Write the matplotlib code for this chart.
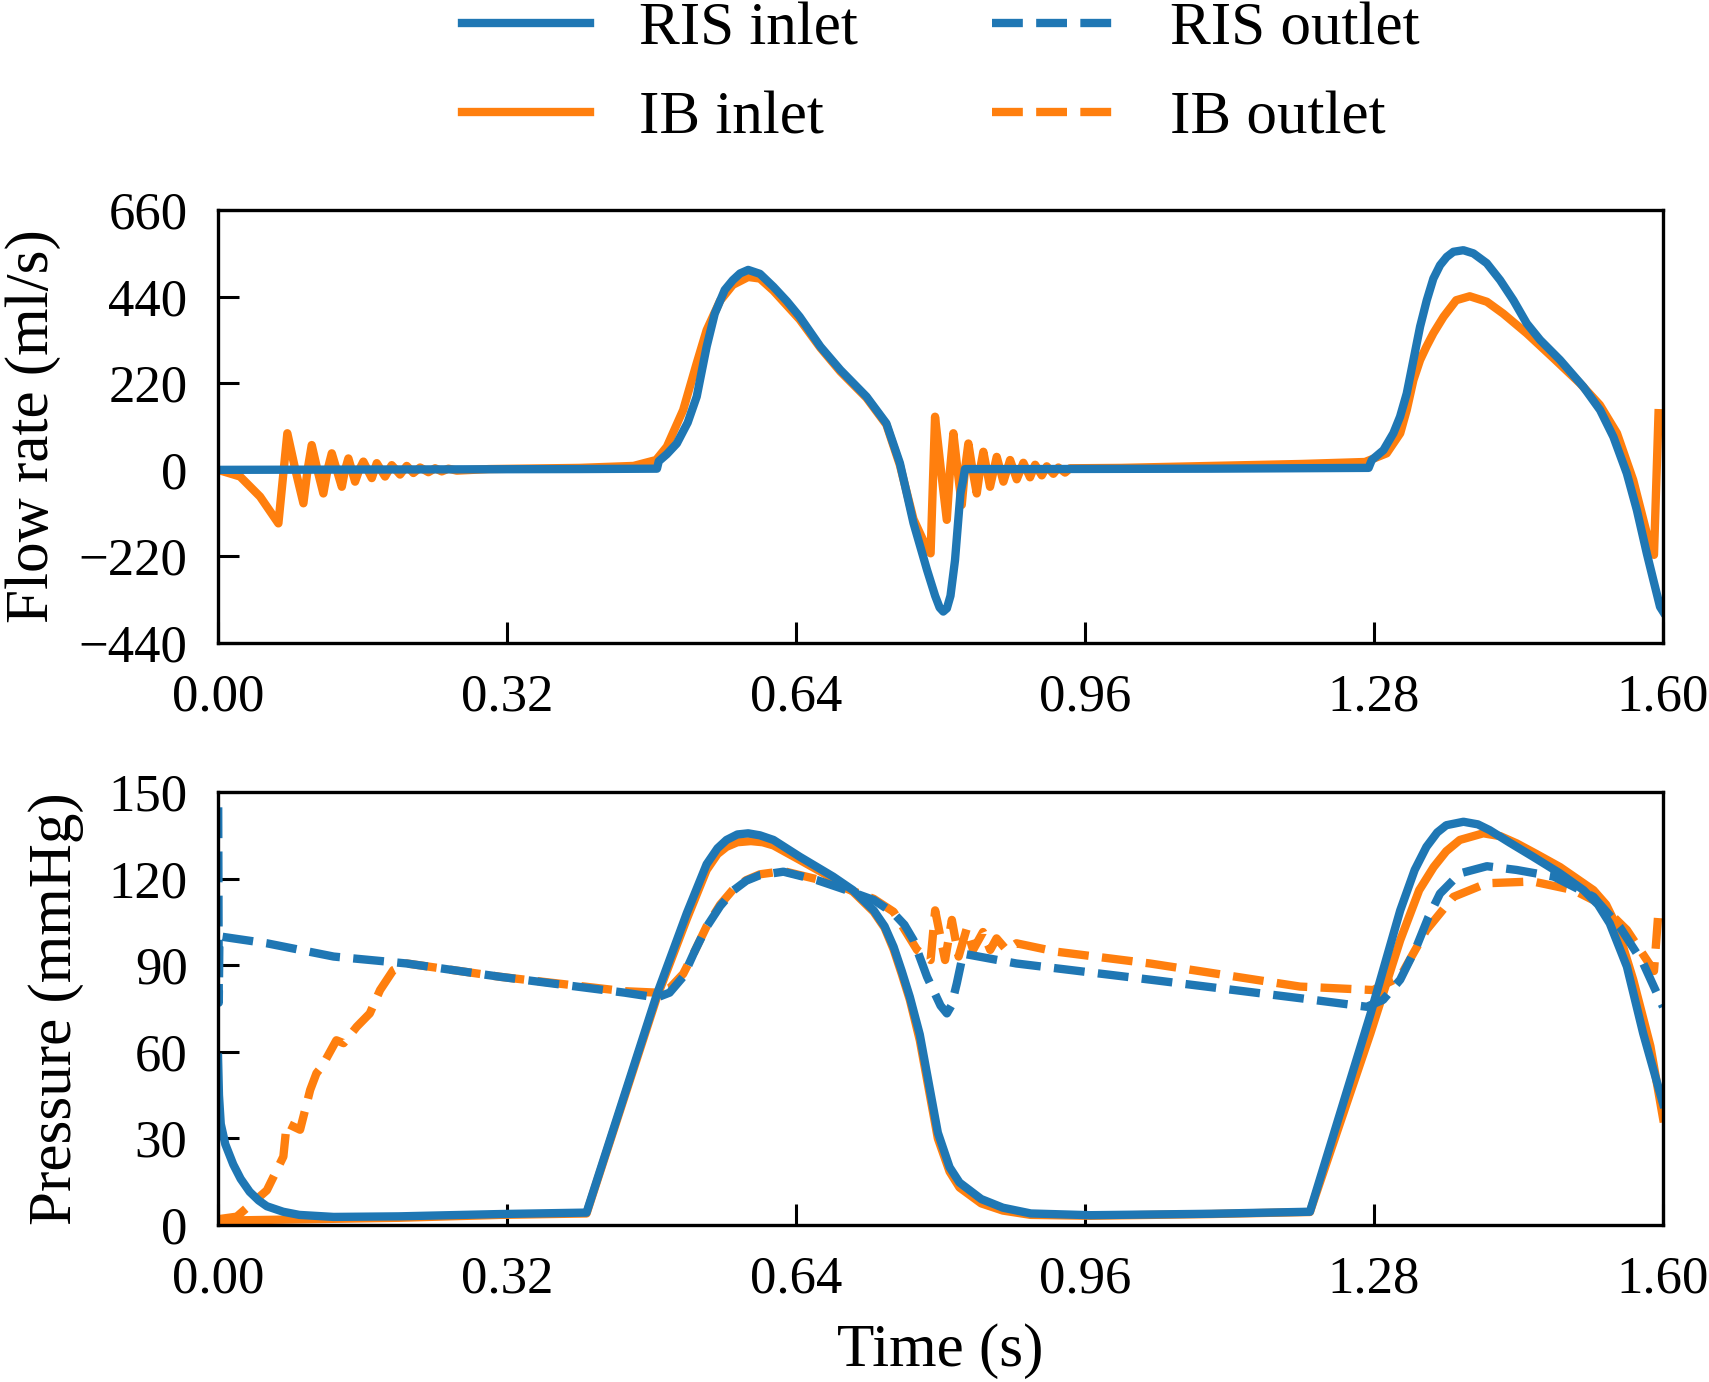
import numpy as np
import matplotlib.pyplot as plt

plt.rcParams['font.family'] = ['Liberation Serif', 'DejaVu Serif']

# ---- flow rate (ml/s) ----
t_q_ris = [0, 0.2, 0.40, 0.486, 0.488, 0.497, 0.508, 0.52, 0.530, 0.541, 0.550, 0.561,
           0.570, 0.578, 0.587, 0.600, 0.615, 0.630, 0.644, 0.667, 0.689, 0.718, 0.740,
           0.755, 0.770, 0.785, 0.794, 0.799, 0.803, 0.807, 0.811, 0.816, 0.822, 0.825,
           0.827, 0.9, 1.1, 1.274, 1.2775, 1.2904, 1.3014, 1.3088, 1.3162, 1.3236, 1.331,
           1.3384, 1.3457, 1.3531, 1.3605, 1.3679, 1.3789, 1.39, 1.4048, 1.4196, 1.4343,
           1.4491, 1.4639, 1.486, 1.5118, 1.5303, 1.545, 1.5599, 1.571, 1.582, 1.5893,
           1.5967, 1.6]
q_ris = [0, 1, 2, 3, 22, 40, 67, 120, 186, 313, 397, 457,
         482, 499, 508, 498, 465, 428, 389, 313, 254, 186, 118,
         17, -135, -254, -320, -350, -360, -352, -320, -230, -60, -26,
         2, 2, 3, 5, 25, 50, 93, 135, 194, 279, 364,
         431, 486, 520, 541, 554, 558, 550, 525, 482, 431,
         372, 330, 279, 211, 152, 84, -9, -102, -212, -280,
         -348, -360]

t_q_ib = [0, 0.0244, 0.0465, 0.0668, 0.0767, 0.0856, 0.0945, 0.0991, 0.1037, 0.1100,
          0.1166, 0.1212, 0.1259, 0.1314, 0.1370, 0.1406, 0.1443, 0.1480, 0.1517, 0.1563,
          0.1609, 0.1655, 0.1702, 0.1757, 0.1849, 0.1923, 0.2015, 0.2089, 0.2163, 0.2237,
          0.2329, 0.2403, 0.2477, 0.2551, 0.2643, 0.30, 0.40, 0.46, 0.485, 0.497, 0.515,
          0.530, 0.541, 0.556, 0.570, 0.587, 0.600, 0.615, 0.644, 0.667, 0.689, 0.718,
          0.740, 0.755, 0.770, 0.785, 0.789, 0.7939, 0.8004, 0.8069, 0.8105, 0.8142,
          0.8188, 0.8235, 0.8270, 0.8308, 0.8354, 0.8401, 0.8437, 0.8474, 0.8548, 0.8622,
          0.8696, 0.8770, 0.8844, 0.8917, 0.8991, 0.9047, 0.9121, 0.9176, 0.9249, 0.9305,
          0.9379, 0.9434, 1.0, 1.1, 1.2, 1.27, 1.294, 1.309, 1.3162, 1.3236, 1.331, 1.338,
          1.3457, 1.357, 1.371, 1.386, 1.405, 1.423, 1.449, 1.479, 1.508, 1.530, 1.549,
          1.567, 1.582, 1.590, 1.595]
q_ib = [0, -17, -68, -136, 93, 0, -85, 0, 63, 0,
        -60, 0, 42, 0, -43, 0, 29, 0, -30, 0,
        21, 0, -21, 17, -17, 12, -12, 10, -8, 6,
        -6, 4, -4, 3, -2, 2, 5, 10, 25, 59, 152,
        271, 355, 430, 470, 490, 486, 455, 382, 310, 250, 183,
        115, 12, -125, -200, -212, 135, 0, -127, 0, 93,
        0, -89, 0, 67, 0, -60, 0, 46, -43, 33,
        -30, 25, -24, 18, -19, 13, -14, 9, -10, 6,
        -7, 4, 5, 10, 15, 20, 42, 93, 152, 228, 279, 313,
        347, 389, 431, 441, 427, 397, 347, 283, 220, 165, 93,
        -26, -161, -216, 144]

# ---- pressure (mmHg) ----
t_p_ris_in = [0, 0.001, 0.003, 0.008, 0.0168, 0.025, 0.035, 0.045, 0.054, 0.072, 0.09,
              0.128, 0.2, 0.312, 0.408, 0.486, 0.519, 0.541, 0.553, 0.563, 0.575, 0.587,
              0.600, 0.615, 0.644, 0.681, 0.703, 0.726, 0.738, 0.748, 0.757, 0.766, 0.777,
              0.797, 0.810, 0.821, 0.845, 0.869, 0.9, 0.966, 1.1, 1.209, 1.276, 1.309,
              1.325, 1.338, 1.35, 1.36, 1.379, 1.395, 1.408, 1.43, 1.456, 1.485, 1.512,
              1.528, 1.541, 1.56, 1.578, 1.6]
p_ris_in = [58, 45, 35, 28, 21, 16, 11.5, 8.5, 6.5, 4.6, 3.5,
            2.8, 3.0, 3.8, 4.3, 80, 108, 125, 130.5, 133.4, 135.3, 135.7,
            135.0, 133.4, 127.6, 120.7, 116, 109, 103.5, 96.4, 88, 79, 66,
            32, 20, 14.7, 9, 6, 4, 3.4, 3.9, 4.6, 73, 109,
            123, 131, 136, 138.5, 139.7, 138.8, 136.8, 132.5, 127.6, 122, 116,
            111, 104.5, 89.5, 66.4, 42]

t_p_ib_in = [0, 0.1, 0.2, 0.312, 0.408, 0.486, 0.519, 0.541, 0.553, 0.563, 0.575, 0.590,
             0.603, 0.615, 0.644, 0.681, 0.703, 0.726, 0.738, 0.748, 0.757, 0.766, 0.777,
             0.797, 0.810, 0.821, 0.845, 0.869, 0.9, 0.966, 1.1, 1.209, 1.276, 1.309,
             1.33, 1.346, 1.36, 1.375, 1.401, 1.42, 1.438, 1.46, 1.486, 1.523, 1.537,
             1.549, 1.567, 1.586, 1.6]
p_ib_in = [1.5, 2.0, 2.5, 3.5, 4.0, 79, 106, 123, 128.5, 131, 132.6, 133,
           132.6, 131.5, 126.5, 120, 115.5, 108.5, 103, 95.5, 87, 78, 64,
           30, 18.5, 13, 7.5, 5, 3.5, 3.2, 3.8, 4.5, 66.4, 98.7,
           116, 124, 129.5, 133.4, 135.7, 134.7, 132.2, 128.5, 124, 116, 111,
           103.3, 85, 62, 37]

t_p_ris_out = [0, 0.0004, 0.0008, 0.0015, 0.054, 0.128, 0.209, 0.312, 0.45, 0.486, 0.500,
               0.515, 0.528, 0.541, 0.556, 0.571, 0.585, 0.600, 0.626, 0.663, 0.696, 0.726,
               0.748, 0.760, 0.770, 0.785, 0.800, 0.807, 0.812, 0.818, 0.825, 0.884, 1.032,
               1.2, 1.272, 1.290, 1.309, 1.327, 1.34, 1.353, 1.375, 1.405, 1.438, 1.479,
               1.523, 1.552, 1.578, 1.6]
p_ris_out = [160, 120, 77, 100, 97.6, 93, 90.6, 86, 80.5, 78.8, 80.5,
             86, 95, 103.3, 110.5, 116, 119.3, 121.2, 122.4, 119.5, 116, 112.6,
             108, 104, 98.7, 86, 76, 73.3, 76, 83.7, 94, 90.6, 85,
             78.5, 75.6, 78, 85, 96.4, 106.5, 114.8, 121.8, 124.3, 123, 120.7,
             113.7, 103.3, 90.7, 75.6]

t_p_ib_out = [0, 0.0207, 0.054, 0.0723, 0.076, 0.0908, 0.102, 0.109, 0.115, 0.131, 0.139,
              0.1536, 0.168, 0.1794, 0.194, 0.209, 0.312, 0.45, 0.486, 0.500, 0.515, 0.528,
              0.541, 0.556, 0.571, 0.585, 0.600, 0.626, 0.663, 0.696, 0.726, 0.748, 0.774,
              0.789, 0.794, 0.805, 0.8125, 0.82, 0.829, 0.836, 0.847, 0.855, 0.862, 0.873,
              0.884, 0.928, 1.032, 1.198, 1.279, 1.309, 1.338, 1.368, 1.405, 1.456, 1.501,
              1.530, 1.56, 1.582, 1.590, 1.595]
p_ib_out = [2, 2.9, 12, 23.7, 35.2, 33, 46.8, 52.6, 54.9, 64, 63,
            68.7, 73.3, 81.4, 88.3, 90.6, 86, 81, 80.5, 82, 87, 95,
            103.5, 111, 116.5, 119.5, 121.5, 122.6, 119.8, 116.5, 113, 108.5, 95.3,
            91.8, 109, 91.8, 105.7, 93, 102.7, 95.3, 101.5, 95.3, 99.3, 95.3,
            97.6, 94.7, 90.6, 82.6, 81.4, 86, 102.2, 113.7, 118.4, 119, 116,
            111.4, 102.2, 91.8, 88, 109]

xticks = [0.00, 0.32, 0.64, 0.96, 1.28, 1.60]
q_ticks = [-440, -220, 0, 220, 440, 660]
p_ticks = [0, 30, 60, 90, 120, 150]

blue = '#1f77b4'
orange = '#ff7f0e'
lw = 6

fig = plt.figure(figsize=(17.09, 13.82), dpi=100)
ax1 = fig.add_axes([0.1276, 0.5347, 0.8455, 0.3133])
ax2 = fig.add_axes([0.1276, 0.1136, 0.8455, 0.3133])

# flow rate
ax1.plot(t_q_ib, q_ib, color=orange, lw=lw)
ax1.plot(t_q_ris, q_ris, color=blue, lw=lw)
ax1.set_ylim(-440, 660)
ax1.set_yticks(q_ticks)
ax1.set_ylabel('Flow rate (ml/s)', fontsize=44, labelpad=12.5)

# pressure
l3, = ax2.plot(t_p_ib_in, p_ib_in, color=orange, lw=lw, label='IB inlet')
l4, = ax2.plot(t_p_ib_out, p_ib_out, color=orange, lw=lw, ls='--', label='IB outlet')
l1, = ax2.plot(t_p_ris_in, p_ris_in, color=blue, lw=lw, label='RIS inlet')
l2, = ax2.plot(t_p_ris_out, p_ris_out, color=blue, lw=lw, ls='--', label='RIS outlet')
ax2.set_ylim(0, 150)
ax2.set_yticks(p_ticks)
ax2.set_ylabel('Pressure (mmHg)', fontsize=44, labelpad=17.5)
ax2.set_xlabel('Time (s)', fontsize=44, labelpad=14)

for ax in (ax1, ax2):
    ax.set_xlim(0, 1.6)
    ax.set_xticks(xticks)
    ax.set_xticklabels(['%.2f' % v for v in xticks])
    ax.tick_params(direction='in', length=15, width=2.2, labelsize=38)
    ax.tick_params(axis='x', pad=22)
    ax.tick_params(axis='y', pad=22)
    for s in ax.spines.values():
        s.set_linewidth(2.4)

ax1.legend([l1, l3, l2, l4], ['RIS inlet', 'IB inlet', 'RIS outlet', 'IB outlet'],
           loc='lower center', bbox_to_anchor=(0.5, 1.09), ncol=2, frameon=False,
           fontsize=44, handlelength=2.1, columnspacing=2.2, labelspacing=0.55,
           borderaxespad=0)

fig.savefig('out.png', dpi=100)
